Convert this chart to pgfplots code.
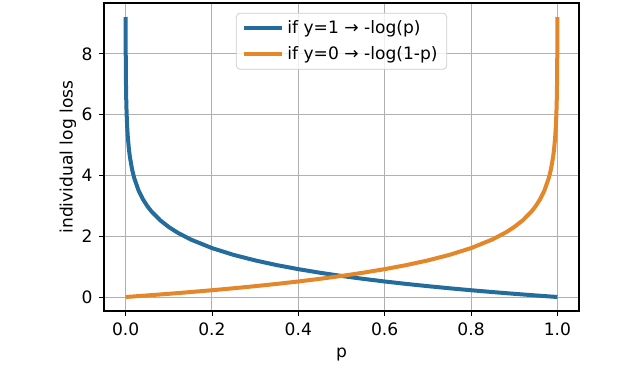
\documentclass[border=0pt]{standalone}
\usepackage{fontspec}
\setmainfont{DejaVu Sans}
\usepackage{pgfplots}
\usepackage{pgfplotstable}
\pgfplotsset{compat=1.18}
\definecolor{mblue}{RGB}{36,108,156}
\definecolor{morange}{RGB}{228,134,42}
\definecolor{gridgray}{RGB}{176,176,176}
\pgfplotstableread{
p loss
0.0001 9.2103
0.0002 8.5172
0.0003 8.1117
0.0005 7.6009
0.0007 7.2644
0.001 6.9078
0.0015 6.5023
0.002 6.2146
0.003 5.8091
0.004 5.5215
0.005 5.2983
0.0075 4.8929
0.01 4.6052
0.015 4.1997
0.02 3.9120
0.03 3.5066
0.04 3.2189
0.05 2.9957
0.06 2.8134
0.08 2.5257
0.1 2.3026
0.12 2.1203
0.15 1.8971
0.2 1.6094
0.25 1.3863
0.3 1.2040
0.35 1.0498
0.4 0.9163
0.45 0.7985
0.5 0.6931
0.55 0.5978
0.6 0.5108
0.65 0.4308
0.7 0.3567
0.75 0.2877
0.8 0.2231
0.85 0.1625
0.9 0.1054
0.95 0.0513
0.9999 0.0001
}\bluedata
\pgfplotstableread{
p loss
0.0001 0.0001
0.05 0.0513
0.1 0.1054
0.15 0.1625
0.2 0.2231
0.25 0.2877
0.3 0.3567
0.35 0.4308
0.4 0.5108
0.45 0.5978
0.5 0.6931
0.55 0.7985
0.6 0.9163
0.65 1.0498
0.7 1.2040
0.75 1.3863
0.8 1.6094
0.85 1.8971
0.88 2.1203
0.9 2.3026
0.92 2.5257
0.94 2.8134
0.95 2.9957
0.96 3.2189
0.97 3.5066
0.98 3.9120
0.985 4.1997
0.99 4.6052
0.9925 4.8929
0.995 5.2983
0.996 5.5215
0.997 5.8091
0.998 6.2146
0.9985 6.5023
0.999 6.9078
0.9993 7.2644
0.9995 7.6009
0.9997 8.1117
0.9998 8.5172
0.9999 9.2103
}\orangedata
\begin{document}
\begin{tikzpicture}[font=\fontsize{9.4}{11.3}\selectfont]
\begin{axis}[
  scale only axis,
  width=261.25pt, height=169.4pt,
  xmin=-0.05, xmax=1.05, ymin=-0.4605, ymax=9.671,
  xtick={0,0.2,0.4,0.6,0.8,1},
  ytick={0,2,4,6,8},
  /pgf/number format/assume math mode=true,
  xticklabel style={/pgf/number format/.cd, fixed, fixed zerofill, precision=1},
  yticklabel style={/pgf/number format/.cd, fixed, precision=0},
  tick align=outside, tick pos=left,
  major tick length=2.75pt,
  every tick/.style={black, line width=0.5pt},
  axis line style={black, line width=0.6pt},
  grid=major,
  major grid style={gridgray, line width=0.55pt},
  xlabel={p}, ylabel={individual log loss},
  ylabel style={at={(axis description cs:-0.0758,0.5)}, anchor=center},
  legend style={at={(0.5,0.968)}, anchor=north, draw=gray!40, rounded corners=2pt,
    fill=white, fill opacity=0.8, text opacity=1, inner xsep=3pt, inner ysep=2pt,
    row sep=1.5pt, font=\fontsize{9.4}{11.3}\selectfont},
  legend cell align=left,
  legend image code/.code={\draw[#1] (0pt,0pt) -- (20.9pt,0pt);},
]
\addplot[mblue, line width=2.2pt, line join=round] table[x=p, y=loss] {\bluedata};
\addlegendentry{if y=1 → -log(p)}
\addplot[morange, line width=2.2pt, line join=round] table[x=p, y=loss] {\orangedata};
\addlegendentry{if y=0 → -log(1-p)}
\end{axis}
\path[use as bounding box] (current axis.south west) ++(-57.2pt,-28.05pt) rectangle ++(352pt,199.1pt);
\end{tikzpicture}
\end{document}
